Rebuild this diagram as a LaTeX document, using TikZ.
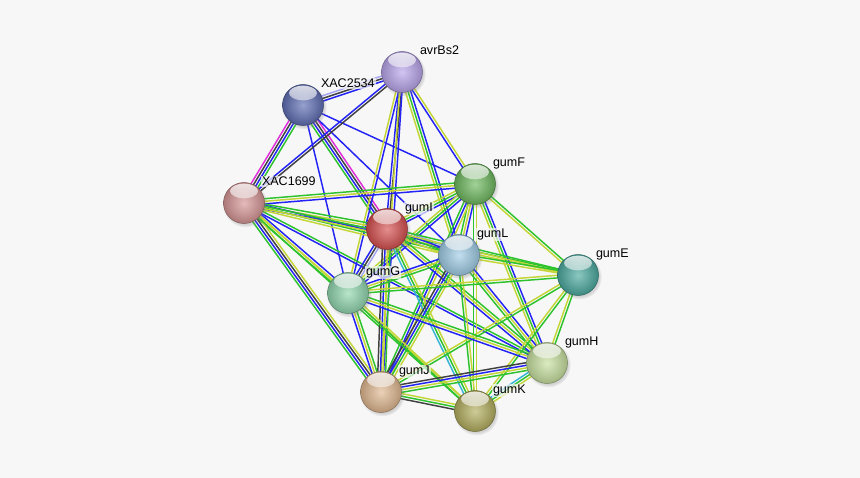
\documentclass[tikz,border=0pt]{standalone}
\usepackage{fontspec}
\setmainfont{Liberation Sans}
\usetikzlibrary{calc,shadows,fadings}

% evidence colours
\definecolor{pagebg}{HTML}{F7F7F7}
\definecolor{nbh}{RGB}{45,195,45}
\definecolor{cooc}{RGB}{35,35,245}
\definecolor{txt}{RGB}{196,214,55}
\definecolor{coex}{RGB}{65,65,65}
\definecolor{expt}{RGB}{225,45,220}
\definecolor{dbase}{RGB}{55,180,215}
\definecolor{homol}{RGB}{165,165,240}

% protein colours
\definecolor{cavr}{RGB}{185,165,235}
\definecolor{cxtwo}{RGB}{95,110,180}
\definecolor{cxone}{RGB}{215,150,150}
\definecolor{cF}{RGB}{110,185,95}
\definecolor{cI}{RGB}{215,80,80}
\definecolor{cL}{RGB}{160,205,230}
\definecolor{cE}{RGB}{75,170,160}
\definecolor{cG}{RGB}{145,215,175}
\definecolor{cH}{RGB}{200,225,160}
\definecolor{cJ}{RGB}{225,185,145}
\definecolor{cK}{RGB}{180,175,95}

\pgfdeclarelayer{back}
\pgfdeclarelayer{wires}
\pgfsetlayers{back,wires,main}

\tikzset{
  protein/.style={circle, minimum size=30.75pt, inner sep=0pt,
    inner color=#1!65!white, outer color=#1!80!black,
    draw=#1!60!black, line width=0.4pt,
    circular drop shadow={shadow xshift=0.9pt, shadow yshift=-1.3pt, opacity=0.3},
    path picture={
      \fill[white, opacity=0.8, path fading=south]
        ($(path picture bounding box.center)+(0pt,9pt)$) ellipse (10.5pt and 5.5pt);
    },
    label distance=3.6pt},
  lbl/.style={font=\fontsize{9.4}{11}\selectfont, fill=pagebg, fill opacity=0.7,
    text opacity=1, inner sep=0.8pt, anchor=base west, xshift=1.5pt, yshift=2pt},
  wire/.style={line width=1.1pt}
}

% one bundle of coloured lines between two proteins
\newcommand\ppi[3]{%
  \foreach \c [count=\k] in {#3} {\xdef\nwires{\k}}%
  \foreach \c [count=\k] in {#3} {%
    \pgfmathsetmacro\off{(\k-(\nwires+1)/2)*1.95}%
    \draw[wire,\c] ($(#1)!\off pt!90:(#2)$) -- ($(#2)!\off pt!-90:(#1)$);
  }%
}

\begin{document}
\begin{tikzpicture}[x=0.75pt,y=-0.75pt]

% page
\begin{pgfonlayer}{back}
\fill[pagebg] (0,0) rectangle (860,478);
\end{pgfonlayer}
\useasboundingbox (0,0) rectangle (860,478);

% proteins
\node[protein=cavr, label={[lbl]45:avrBs2}] (avrBs2) at (402,72) {};
\node[protein=cxtwo, label={[lbl]45:XAC2534}] (XAC2534) at (303,105) {};
\node[protein=cxone, label={[lbl]45:XAC1699}] (XAC1699) at (244,203) {};
\node[protein=cF, label={[lbl]45:gumF}] (gumF) at (475,184) {};
\node[protein=cI, label={[lbl]45:gumI}] (gumI) at (387,229) {};
\node[protein=cL, label={[lbl]45:gumL}] (gumL) at (459,255) {};
\node[protein=cE, label={[lbl]45:gumE}] (gumE) at (578,275) {};
\node[protein=cG, label={[lbl]45:gumG}] (gumG) at (348,293) {};
\node[protein=cH, label={[lbl]45:gumH}] (gumH) at (547,363) {};
\node[protein=cJ, label={[lbl]45:gumJ}] (gumJ) at (381,392) {};
\node[protein=cK, label={[lbl]45:gumK}] (gumK) at (475,411) {};

\begin{pgfonlayer}{wires}
% XAC2534
\ppi{XAC2534}{avrBs2}{cooc,coex,homol}
\ppi{XAC2534}{XAC1699}{expt,coex,cooc,nbh}
\ppi{XAC2534}{gumI}{nbh,cooc,coex,expt}
\ppi{XAC2534}{gumF}{cooc}
\ppi{XAC2534}{gumG}{cooc}
\ppi{XAC2534}{gumL}{cooc}
% avrBs2
\ppi{avrBs2}{XAC1699}{cooc,coex}
\ppi{avrBs2}{gumI}{cooc,coex}
\ppi{avrBs2}{gumG}{txt,cooc}
\ppi{avrBs2}{gumJ}{txt,cooc}
\ppi{avrBs2}{gumL}{txt,nbh,cooc}
\ppi{avrBs2}{gumF}{cooc,txt}
% XAC1699
\ppi{XAC1699}{gumF}{cooc,txt,nbh}
\ppi{XAC1699}{gumI}{cooc,txt,nbh}
\ppi{XAC1699}{gumL}{txt,nbh,cooc}
\ppi{XAC1699}{gumE}{txt,nbh}
\ppi{XAC1699}{gumG}{nbh,txt,cooc}
\ppi{XAC1699}{gumJ}{nbh,cooc,coex,txt}
\ppi{XAC1699}{gumK}{nbh,txt}
\ppi{XAC1699}{gumH}{cooc,nbh}
% gum cluster
\ppi{gumF}{gumI}{txt,nbh,cooc}
\ppi{gumF}{gumL}{nbh,txt,cooc}
\ppi{gumF}{gumE}{txt,nbh}
\ppi{gumF}{gumG}{txt,nbh,cooc}
\ppi{gumF}{gumH}{txt,nbh,cooc}
\ppi{gumF}{gumJ}{nbh,cooc,txt}
\ppi{gumF}{gumK}{nbh,txt}
\ppi{gumI}{gumL}{txt,nbh,cooc,homol}
\ppi{gumI}{gumG}{cooc,coex,homol}
\ppi{gumI}{gumE}{txt,nbh}
\ppi{gumI}{gumH}{cooc,txt,nbh}
\ppi{gumI}{gumJ}{coex,cooc,txt,nbh}
\ppi{gumI}{gumK}{dbase,nbh,txt}
\ppi{gumL}{gumE}{txt,nbh}
\ppi{gumL}{gumG}{cooc,txt,nbh}
\ppi{gumL}{gumH}{nbh,txt,cooc}
\ppi{gumL}{gumJ}{coex,cooc,nbh,txt}
\ppi{gumL}{gumK}{nbh,txt}
\ppi{gumE}{gumG}{txt,nbh}
\ppi{gumE}{gumH}{txt,nbh}
\ppi{gumE}{gumJ}{txt,nbh}
\ppi{gumE}{gumK}{txt,nbh}
\ppi{gumG}{gumH}{cooc,txt,nbh}
\ppi{gumG}{gumJ}{cooc,txt,nbh}
\ppi{gumG}{gumK}{nbh,txt}
\ppi{gumH}{gumJ}{coex,cooc,txt,nbh}
\ppi{gumH}{gumK}{dbase,nbh,txt}
\ppi{gumJ}{gumK}{coex,nbh,txt}
\end{pgfonlayer}

\end{tikzpicture}
\end{document}
